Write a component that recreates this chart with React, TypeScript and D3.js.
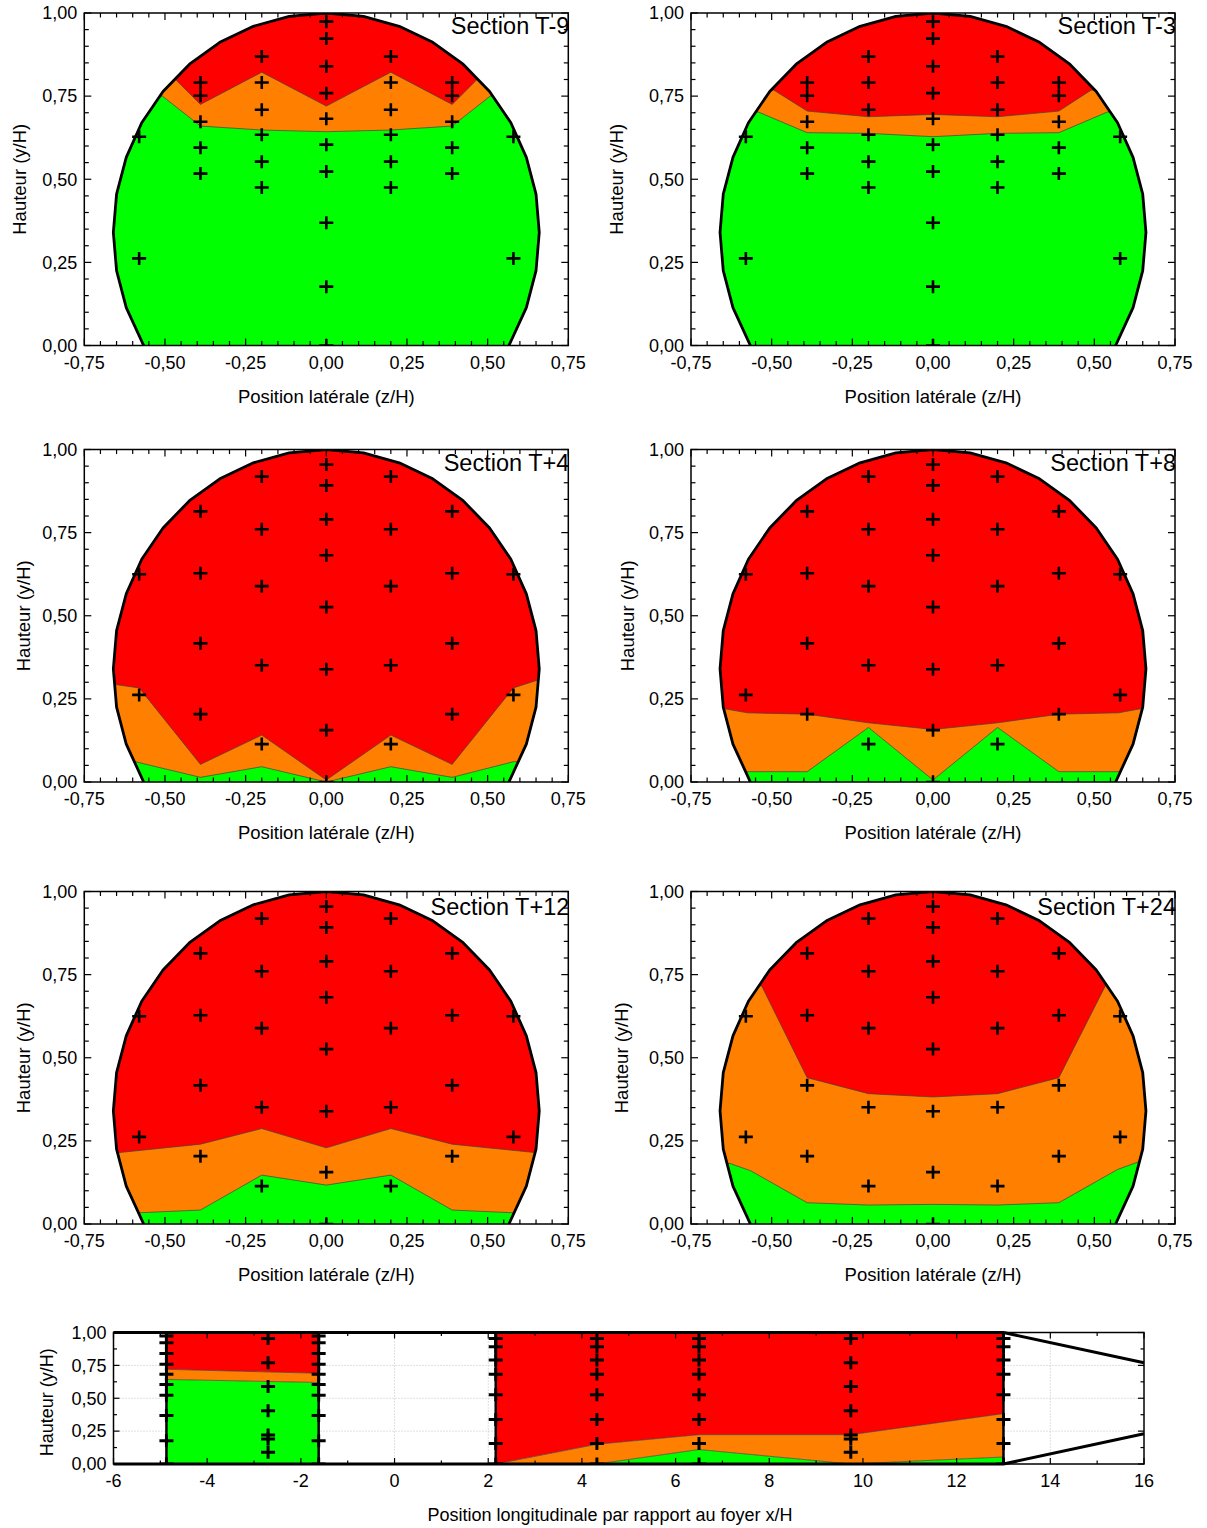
import React from "react";
import * as d3 from "d3";

const RED = "#ff0000";
const ORANGE = "#ff8000";
const GREEN = "#00ff00";
const FONT = "'Liberation Sans', Arial, Helvetica, sans-serif";

// ---------- Tunnel cross-section outline (z/H, y/H) ----------
const outlineZ = [0.566, 0.62, 0.65, 0.66, 0.65, 0.62, 0.572, 0.506, 0.424, 0.33, 0.226, 0.115, 0,
  -0.115, -0.226, -0.33, -0.424, -0.506, -0.572, -0.62, -0.65, -0.66, -0.65, -0.62, -0.566];
const outlineY = [0, 0.114, 0.225, 0.34, 0.455, 0.566, 0.67, 0.764, 0.846, 0.912, 0.96, 0.99, 1.0,
  0.99, 0.96, 0.912, 0.846, 0.764, 0.67, 0.566, 0.455, 0.34, 0.225, 0.114, 0];

// ---------- Measurement points ----------
const gridColumnZ = [0, 0.2, 0.39, 0.58];
const gridAColumnY = [
  [0.974, 0.923, 0.84, 0.759, 0.682, 0.604, 0.523, 0.369, 0.177, 0.0],
  [0.869, 0.791, 0.709, 0.634, 0.553, 0.475],
  [0.791, 0.751, 0.673, 0.595, 0.517],
  [0.628, 0.262],
];
const gridBColumnY = [
  [0.955, 0.892, 0.79, 0.682, 0.526, 0.339, 0.156, 0.0],
  [0.919, 0.76, 0.589, 0.351, 0.114],
  [0.814, 0.628, 0.417, 0.204],
  [0.625, 0.262],
];

// ---------- Sections ----------
const sectionNames = ["Section T-9", "Section T-3", "Section T+4", "Section T+8", "Section T+12", "Section T+24"];
const sectionGrid = ["A", "A", "B", "B", "B", "B"];
// lower edge of the red zone
const redBoundZ = [
  [-0.467, -0.39, -0.2, 0, 0.2, 0.39, 0.467],
  [-0.493, -0.39, -0.2, 0, 0.2, 0.39, 0.49],
  [-0.66, -0.58, -0.39, -0.2, 0, 0.2, 0.39, 0.58, 0.66],
  [-0.645, -0.575, -0.39, -0.2, 0, 0.2, 0.39, 0.575, 0.647],
  [-0.64, -0.39, -0.2, 0, 0.2, 0.39, 0.645],
  [-0.531, -0.39, -0.2, 0, 0.2, 0.39, 0.534],
];
const redBoundY = [
  [0.8, 0.725, 0.822, 0.72, 0.822, 0.725, 0.8],
  [0.768, 0.705, 0.688, 0.695, 0.688, 0.705, 0.768],
  [0.294, 0.283, 0.053, 0.141, 0.006, 0.141, 0.053, 0.283, 0.308],
  [0.22, 0.208, 0.204, 0.178, 0.158, 0.178, 0.204, 0.208, 0.221],
  [0.215, 0.24, 0.287, 0.229, 0.287, 0.24, 0.215],
  [0.716, 0.44, 0.392, 0.382, 0.392, 0.44, 0.716],
];
// upper edge of the green zone
const greenBoundZ = [
  [-0.508, -0.39, -0.2, 0, 0.2, 0.39, 0.508],
  [-0.541, -0.39, -0.2, 0, 0.2, 0.39, 0.54],
  [-0.592, -0.39, -0.2, 0, 0.2, 0.39, 0.58],
  [-0.58, -0.39, -0.2, 0, 0.2, 0.39, 0.58],
  [-0.574, -0.39, -0.2, 0, 0.2, 0.39, 0.574],
  [-0.629, -0.565, -0.39, -0.2, 0, 0.2, 0.39, 0.572, 0.637],
];
const greenBoundY = [
  [0.75, 0.66, 0.648, 0.643, 0.648, 0.66, 0.75],
  [0.702, 0.64, 0.638, 0.628, 0.638, 0.64, 0.702],
  [0.061, 0.014, 0.046, 0.0, 0.046, 0.014, 0.061],
  [0.031, 0.031, 0.164, 0.006, 0.164, 0.031, 0.031],
  [0.034, 0.042, 0.147, 0.117, 0.147, 0.042, 0.034],
  [0.182, 0.16, 0.064, 0.057, 0.059, 0.057, 0.064, 0.164, 0.187],
];

// ---------- Longitudinal view ----------
const longAX = [-4.87, -1.62];
const longAGreen = [0.643, 0.62];
const longARed = [0.72, 0.69];
const longBX = [2.16, 4.32, 6.5, 9.74, 13.0];
const longBGreen = [0.0, 0.0, 0.11, 0.0, 0.053];
const longBRed = [0.0, 0.15, 0.223, 0.223, 0.383];
const sectionLineX = [-4.87, -1.62, 2.16, 13.0];
const tunnelX = [-6, 13, 16];
const tunnelTopY = [1.0, 1.0, 0.77];
const tunnelBottomY = [0.0, 0.0, 0.23];
const longCrossX = [-4.87, -2.7, -1.62, 2.16, 4.32, 6.5, 9.74, 13.0];
const midColumnY = [0.955, 0.77, 0.59, 0.405, 0.22, 0.19, 0.09];
const longCrossY = [gridAColumnY[0], midColumnY, gridAColumnY[0], gridBColumnY[0], gridBColumnY[0], gridBColumnY[0], midColumnY, gridBColumnY[0]];

// ---------- Ticks ----------
const secXTicks = [-0.75, -0.5, -0.25, 0, 0.25, 0.5, 0.75];
const secYTicks = [0, 0.25, 0.5, 0.75, 1];
const longXTicks = [-6, -4, -2, 0, 2, 4, 6, 8, 10, 12, 14, 16];
const longYTicks = [0, 0.25, 0.5, 0.75, 1];

const fmt2 = (v: number) => (Math.round(v * 100) / 100).toFixed(2).replace(".", ",");

const panels = [
  { x0: 84.3, x1: 568.3, yb: 345.5, yt: 13, yTitleX: 20, titleDy: 21 },
  { x0: 691, x1: 1175, yb: 345.5, yt: 13, yTitleX: 617, titleDy: 21 },
  { x0: 84.3, x1: 568.3, yb: 782, yt: 449.5, yTitleX: 24, titleDy: 21 },
  { x0: 691, x1: 1175, yb: 782, yt: 449.5, yTitleX: 628, titleDy: 21 },
  { x0: 84.3, x1: 568.3, yb: 1224, yt: 891.5, yTitleX: 24, titleDy: 23 },
  { x0: 691, x1: 1175, yb: 1224, yt: 891.5, yTitleX: 622, titleDy: 23 },
];

function Cross({ x, y, w = 7, h = 6.5, sw = 2.6 }: any) {
  return (
    <path d={`M${x - w},${y}H${x + w}M${x},${y - h}V${y + h}`} stroke="#000" strokeWidth={sw} fill="none" />
  );
}

function FrameTicks({ xs, ys, xMinor, xMajor, yMinor, yMajor, majLen, minLen }: any) {
  const [x0, x1] = xs.range();
  const [yb, yt] = ys.range();
  const isMaj = (v: number, majors: number[]) => majors.some((m) => Math.abs(m - v) < 1e-6);
  const els: any[] = [];
  xMinor.forEach((v: number, i: number) => {
    const L = isMaj(v, xMajor) ? majLen : minLen;
    const x = xs(v);
    els.push(<line key={"xb" + i} x1={x} x2={x} y1={yb} y2={yb - L} />);
    els.push(<line key={"xt" + i} x1={x} x2={x} y1={yt} y2={yt + L} />);
  });
  yMinor.forEach((v: number, i: number) => {
    const L = isMaj(v, yMajor) ? majLen : minLen;
    const y = ys(v);
    els.push(<line key={"yl" + i} x1={x0} x2={x0 + L} y1={y} y2={y} />);
    els.push(<line key={"yr" + i} x1={x1} x2={x1 - L} y1={y} y2={y} />);
  });
  return <g stroke="#000" strokeWidth={1.2}>{els}</g>;
}

function SectionPanel({ idx }: { idx: number }) {
  const p = panels[idx];
  const xs = d3.scaleLinear().domain([-0.75, 0.75]).range([p.x0, p.x1]);
  const ys = d3.scaleLinear().domain([0, 1]).range([p.yb, p.yt]);
  const line = d3.line<[number, number]>().x((d) => xs(d[0])).y((d) => ys(d[1]));
  const outlinePts = outlineZ.map((z, i) => [z, outlineY[i]] as [number, number]);
  const outlinePath = line(outlinePts) + "Z";
  const boundPts = (zs: number[], yv: number[]) => {
    const pts: [number, number][] = zs.map((z, i) => [z, yv[i]]);
    return [[-1, yv[0]] as [number, number], ...pts, [1, yv[yv.length - 1]] as [number, number]];
  };
  const regionAbove = (zs: number[], yv: number[]) =>
    line([...boundPts(zs, yv), [1, 1.3], [-1, 1.3]]) + "Z";
  const redB = boundPts(redBoundZ[idx], redBoundY[idx]);
  const greenB = boundPts(greenBoundZ[idx], greenBoundY[idx]);
  const gridY = sectionGrid[idx] === "A" ? gridAColumnY : gridBColumnY;
  const crosses: any[] = [];
  gridColumnZ.forEach((z, ci) => {
    const sides = z === 0 ? [1] : [-1, 1];
    sides.forEach((s) => {
      gridY[ci].forEach((y, k) => {
        crosses.push(<Cross key={`${ci}-${s}-${k}`} x={xs(s * z)} y={ys(y)} />);
      });
    });
  });
  const clipId = `outline-${idx}`;
  const rectId = `rect-${idx}`;
  const xMinor = d3.range(-0.75, 0.7501, 0.05);
  const yMinor = d3.range(0, 1.0001, 0.05);
  const cx = (p.x0 + p.x1) / 2;
  const cy = (p.yb + p.yt) / 2;
  return (
    <g>
      <defs>
        <clipPath id={clipId}>
          <path d={outlinePath} />
        </clipPath>
        <clipPath id={rectId}>
          <rect x={p.x0} y={p.yt} width={p.x1 - p.x0} height={p.yb - p.yt} />
        </clipPath>
      </defs>
      <g clipPath={`url(#${clipId})`}>
        <path d={outlinePath} fill={GREEN} />
        <path d={regionAbove(greenBoundZ[idx], greenBoundY[idx])} fill={ORANGE} />
        <path d={regionAbove(redBoundZ[idx], redBoundY[idx])} fill={RED} />
        <path d={line(greenB) || ""} fill="none" stroke="#404040" strokeWidth={0.7} />
        <path d={line(redB) || ""} fill="none" stroke="#404040" strokeWidth={0.7} />
      </g>
      <g clipPath={`url(#${rectId})`}>
        <path d={line(outlinePts) || ""} fill="none" stroke="#000" strokeWidth={2.8} strokeLinejoin="round" />
        {crosses}
      </g>
      <rect x={p.x0} y={p.yt} width={p.x1 - p.x0} height={p.yb - p.yt} fill="none" stroke="#000" strokeWidth={1.5} />
      <FrameTicks xs={xs} ys={ys} xMinor={xMinor} xMajor={secXTicks} yMinor={yMinor} yMajor={secYTicks} majLen={7} minLen={4.5} />
      <g fontFamily={FONT} fontSize={18} fill="#000">
        {secXTicks.map((v) => (
          <text key={"xl" + v} x={xs(v)} y={p.yb + 23} textAnchor="middle">{fmt2(v)}</text>
        ))}
        {secYTicks.map((v) => (
          <text key={"yl" + v} x={p.x0 - 7} y={ys(v)} dy="0.35em" textAnchor="end">{fmt2(v)}</text>
        ))}
      </g>
      <text x={cx} y={p.yb + 57} textAnchor="middle" fontFamily={FONT} fontSize={18.5}>Position latérale (z/H)</text>
      <text transform={`translate(${p.yTitleX},${cy}) rotate(-90)`} textAnchor="middle" dy="0.35em" fontFamily={FONT} fontSize={18.5}>Hauteur (y/H)</text>
      <text x={p.x1 + 1} y={p.yt + p.titleDy} textAnchor="end" fontFamily={FONT} fontSize={23.5}>{sectionNames[idx]}</text>
    </g>
  );
}

function LongPanel() {
  const x0 = 113.5, x1 = 1144, yb = 1464, yt = 1332.5;
  const xs = d3.scaleLinear().domain([-6, 16]).range([x0, x1]);
  const ys = d3.scaleLinear().domain([0, 1]).range([yb, yt]);
  const area = (xv: number[], lo: number[], hi: number[]) =>
    d3.area<number>().x((_, i) => xs(xv[i])).y0((_, i) => ys(lo[i])).y1((_, i) => ys(hi[i]))(xv) || "";
  const ln = (xv: number[], yv: number[]) =>
    d3.line<number>().x((_, i) => xs(xv[i])).y((_, i) => ys(yv[i]))(xv) || "";
  const zerosA = longAX.map(() => 0);
  const onesA = longAX.map(() => 1);
  const zerosB = longBX.map(() => 0);
  const onesB = longBX.map(() => 1);
  const xMinor = d3.range(-6, 16.001, 1);
  const yMinor = d3.range(0, 1.0001, 0.125);
  const gridX = longXTicks.filter((v) => v > -6 && v < 16);
  const gridYv = longYTicks.filter((v) => v > 0 && v < 1);
  return (
    <g>
      <defs>
        <clipPath id="longclip">
          <rect x={x0} y={yt} width={x1 - x0} height={yb - yt} />
        </clipPath>
      </defs>
      <g stroke="#c0c0c0" strokeWidth={1} strokeDasharray="1,2">
        {gridX.map((v) => <line key={"gx" + v} x1={xs(v)} x2={xs(v)} y1={yt} y2={yb} />)}
        {gridYv.map((v) => <line key={"gy" + v} x1={x0} x2={x1} y1={ys(v)} y2={ys(v)} />)}
      </g>
      <g clipPath="url(#longclip)">
        <path d={area(longAX, zerosA, longAGreen)} fill={GREEN} />
        <path d={area(longAX, longAGreen, longARed)} fill={ORANGE} />
        <path d={area(longAX, longARed, onesA)} fill={RED} />
        <path d={area(longBX, zerosB, longBGreen)} fill={GREEN} />
        <path d={area(longBX, longBGreen, longBRed)} fill={ORANGE} />
        <path d={area(longBX, longBRed, onesB)} fill={RED} />
        <g fill="none" stroke="#404040" strokeWidth={0.7}>
          <path d={ln(longAX, longAGreen)} />
          <path d={ln(longAX, longARed)} />
          <path d={ln(longBX, longBGreen)} />
          <path d={ln(longBX, longBRed)} />
        </g>
        {sectionLineX.map((v) => (
          <line key={"sl" + v} x1={xs(v)} x2={xs(v)} y1={ys(0)} y2={ys(1)} stroke="#000" strokeWidth={2.5} />
        ))}
        {longCrossX.map((xv, ci) =>
          longCrossY[ci].map((yv, k) => <Cross key={`lc${ci}-${k}`} x={xs(xv)} y={ys(yv)} w={7} h={6.5} sw={3} />)
        )}
      </g>
      <rect x={x0} y={yt} width={x1 - x0} height={yb - yt} fill="none" stroke="#000" strokeWidth={1.5} />
      <path d={ln(tunnelX, tunnelTopY)} fill="none" stroke="#000" strokeWidth={3} />
      <path d={ln(tunnelX, tunnelBottomY)} fill="none" stroke="#000" strokeWidth={3} />
      <FrameTicks xs={xs} ys={ys} xMinor={xMinor} xMajor={longXTicks} yMinor={yMinor} yMajor={longYTicks} majLen={6} minLen={3.5} />
      <g fontFamily={FONT} fontSize={18} fill="#000">
        {longXTicks.map((v) => (
          <text key={"lx" + v} x={xs(v)} y={yb + 23} textAnchor="middle">{String(v)}</text>
        ))}
        {longYTicks.map((v) => (
          <text key={"ly" + v} x={x0 - 7} y={ys(v)} dy="0.35em" textAnchor="end">{fmt2(v)}</text>
        ))}
      </g>
      <text x={610} y={1521} textAnchor="middle" fontFamily={FONT} fontSize={18}>Position longitudinale par rapport au foyer x/H</text>
      <text transform={`translate(47,${(yb + yt) / 2 + 4}) rotate(-90)`} textAnchor="middle" dy="0.35em" fontFamily={FONT} fontSize={18}>Hauteur (y/H)</text>
    </g>
  );
}

export default function App() {
  return (
    <svg width={1207} height={1528} style={{ position: "absolute", left: 0, top: 0, background: "#fff" }}>
      <rect x={0} y={0} width={1207} height={1528} fill="#fff" />
      {panels.map((_, i) => <SectionPanel key={i} idx={i} />)}
      <LongPanel />
    </svg>
  );
}
